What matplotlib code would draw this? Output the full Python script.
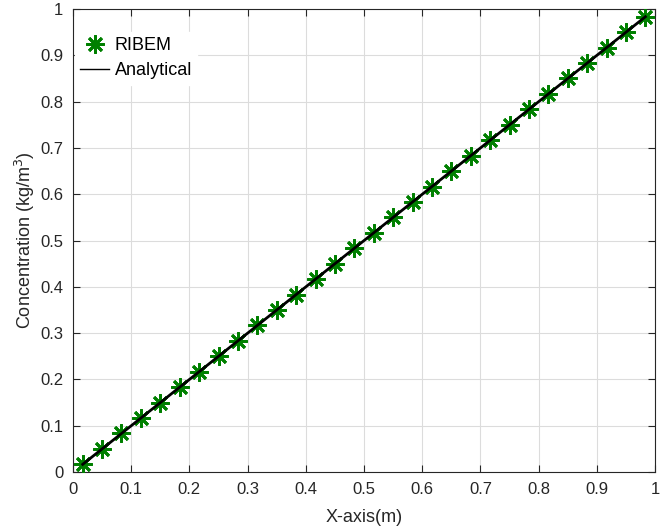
import numpy as np
import matplotlib
matplotlib.use('Agg')
import matplotlib.pyplot as plt

plt.rcParams['font.family'] = ['Liberation Sans', 'DejaVu Sans']

# data
x_ribem = [0.0167, 0.05, 0.0833, 0.1167, 0.15, 0.1833, 0.2167, 0.25, 0.2833, 0.3167,
           0.35, 0.3833, 0.4167, 0.45, 0.4833, 0.5167, 0.55, 0.5833, 0.6167, 0.65,
           0.6833, 0.7167, 0.75, 0.7833, 0.8167, 0.85, 0.8833, 0.9167, 0.95, 0.9833]
c_ribem = [0.0167, 0.05, 0.0833, 0.1167, 0.15, 0.1833, 0.2167, 0.25, 0.2833, 0.3167,
           0.35, 0.3833, 0.4167, 0.45, 0.4833, 0.5167, 0.55, 0.5833, 0.6167, 0.65,
           0.6833, 0.7167, 0.75, 0.7833, 0.8167, 0.85, 0.8833, 0.9167, 0.95, 0.9833]
x_exact = x_ribem
c_exact = c_ribem

ticks = [0, 0.1, 0.2, 0.3, 0.4, 0.5, 0.6, 0.7, 0.8, 0.9, 1]
tick_labels = ['0', '0.1', '0.2', '0.3', '0.4', '0.5', '0.6', '0.7', '0.8', '0.9', '1']

fig = plt.figure(figsize=(6.6, 5.31), dpi=100)
ax = fig.add_axes([0.1106, 0.111, 0.882, 0.872])

ax.plot(x_ribem, c_ribem, linestyle='none', marker=(8, 2, 0), markersize=13,
        markeredgewidth=2.0, color='#008000', label='RIBEM', zorder=3)
ax.plot(x_exact, c_exact, color='black', linewidth=2, label='Analytical', zorder=4)

ax.set_xlim(0, 1)
ax.set_ylim(0, 1)
ax.set_xticks(ticks)
ax.set_xticklabels(tick_labels)
ax.set_yticks(ticks)
ax.set_yticklabels(tick_labels)
ax.grid(True, color='#dcdcdc', linewidth=0.8)
ax.set_axisbelow(True)
ax.tick_params(direction='in', top=True, right=True, labelsize=12,
               colors='#262626', length=5, width=0.8, pad=7)
for s in ax.spines.values():
    s.set_color('#262626')
    s.set_linewidth(0.8)

ax.set_xlabel('X-axis(m)', fontsize=13, color='#262626', labelpad=9)
ax.set_ylabel('Concentration (kg/m$^3$)', fontsize=13, color='#262626', labelpad=2)

leg = ax.legend(loc='upper left', bbox_to_anchor=(0.0, 0.955), fontsize=13,
                frameon=True, fancybox=False, handlelength=1.6, borderpad=0.3,
                labelspacing=0.45, handletextpad=0.3, borderaxespad=0.1)
leg.get_frame().set_edgecolor('white')
leg.get_frame().set_alpha(1)
leg.legend_handles[1].set_linewidth(1)

fig.savefig('out.png', dpi=100)
